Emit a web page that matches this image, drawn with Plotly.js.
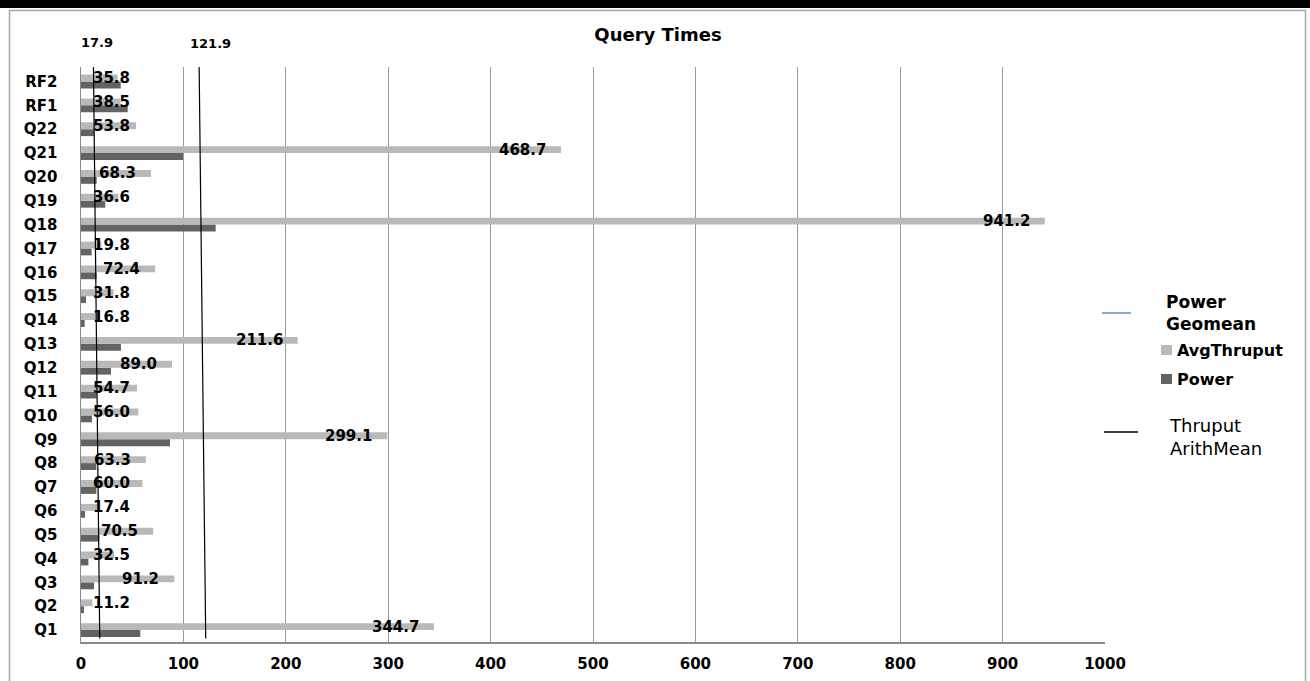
<!DOCTYPE html>
<html>
<head>
<meta charset="utf-8">
<script src="https://cdn.plot.ly/plotly-3.0.1.min.js"></script>
<style>
html,body{margin:0;padding:0;background:#fff;}
#chart{width:1310px;height:681px;}
.cartesianlayer .plot, .scatterlayer, .scatterlayer *{clip-path:none !important;}
</style>
</head>
<body>
<div id="chart"></div>
<script>
// ---- data ----
var categories = ['Q1','Q2','Q3','Q4','Q5','Q6','Q7','Q8','Q9','Q10','Q11','Q12','Q13','Q14','Q15','Q16','Q17','Q18','Q19','Q20','Q21','Q22','RF1','RF2'];
var avgThruput = [344.7,11.2,91.2,32.5,70.5,17.4,60.0,63.3,299.1,56.0,54.7,89.0,211.6,16.8,31.8,72.4,19.8,941.2,36.6,68.3,468.7,53.8,38.5,35.8];
var power      = [57.9,2.9,12.7,7.2,17.9,3.9,15.0,15.0,86.9,10.7,15.3,29.3,39.0,3.6,4.9,15.3,10.4,131.5,23.7,15.3,99.6,12.7,45.6,38.8];
var powerGeomean = 17.9;
var thruputArithMean = 121.9;
// reference lines as drawn (slightly slanted): x at bottom, x at top
var geomeanLineX = [18.3, 12.1];
var arithLineX = [121.8, 115.3];
var lineSpanY = [0.006, 1.012];
var xTicks = [0,100,200,300,400,500,600,700,800,900,1000];

// ---- layout helpers (pixels -> paper) ----
var ML = 81, MR = 205, MT = 67, MB = 39, W = 1310, H = 681;
var PW = W - ML - MR, PH = H - MT - MB;
function px(x){ return (x - ML) / PW; }
function py(y){ return 1 - (y - MT) / PH; }

var FONT = 'DejaVu Sans, Verdana, sans-serif';
var LIGHT = '#b9b9b9', DARK = '#636363';

var traces = [
  {type:'bar', orientation:'h', name:'Power', y:categories, x:power,
   marker:{color:DARK}, hoverinfo:'x+y'},
  {type:'bar', orientation:'h', name:'AvgThruput', y:categories, x:avgThruput,
   marker:{color:LIGHT}, hoverinfo:'x+y'},
  {type:'scatter', mode:'lines', name:'Power Geomean', x:geomeanLineX, y:lineSpanY,
   yaxis:'y2', line:{color:'#000', width:1.2}, cliponaxis:false, hoverinfo:'skip'},
  {type:'scatter', mode:'lines', name:'Thruput ArithMean', x:arithLineX, y:lineSpanY,
   yaxis:'y2', line:{color:'#000', width:1.2}, cliponaxis:false, hoverinfo:'skip'}
];

var annotations = [];
// data labels for AvgThruput
for (var i = 0; i < categories.length; i++) {
  annotations.push({
    x: Math.max(avgThruput[i], 62.7), y: categories[i], xref:'x', yref:'y',
    text: avgThruput[i].toFixed(1), showarrow:false, xanchor:'right', yanchor:'middle',
    xshift:-13, yshift:3.5, font:{family:FONT, size:15, color:'#000', weight:'bold'}
  });
}
// labels above reference lines
annotations.push({x:powerGeomean, y:py(43), xref:'x', yref:'paper', text:powerGeomean.toFixed(1),
  showarrow:false, xanchor:'center', yanchor:'middle', xshift:-2,
  font:{family:FONT, size:13, color:'#000', weight:'bold'}});
annotations.push({x:thruputArithMean, y:py(44), xref:'x', yref:'paper', text:thruputArithMean.toFixed(1),
  showarrow:false, xanchor:'center', yanchor:'middle', xshift:5,
  font:{family:FONT, size:13, color:'#000', weight:'bold'}});
// legend texts
annotations.push({x:px(1164), y:py(313), xref:'paper', yref:'paper', text:'Power<br>Geomean',
  showarrow:false, xanchor:'left', yanchor:'middle', align:'left',
  font:{family:FONT, size:17, color:'#000', weight:'bold'}});
annotations.push({x:px(1175), y:py(350), xref:'paper', yref:'paper', text:'AvgThruput',
  showarrow:false, xanchor:'left', yanchor:'middle',
  font:{family:FONT, size:16, color:'#000', weight:'bold'}});
annotations.push({x:px(1175), y:py(379), xref:'paper', yref:'paper', text:'Power',
  showarrow:false, xanchor:'left', yanchor:'middle',
  font:{family:FONT, size:16, color:'#000', weight:'bold'}});
annotations.push({x:px(1167), y:py(437), xref:'paper', yref:'paper', text:'Thruput<br>ArithMean',
  showarrow:false, xanchor:'left', yanchor:'middle', align:'left',
  font:{family:FONT, size:18, color:'#000'}});

var shapes = [
  // top black strip
  {type:'rect', xref:'paper', yref:'paper', x0:px(-5), x1:px(W+5), y0:py(8), y1:py(-5),
   fillcolor:'#000', line:{width:0}, layer:'below'},
  // outer frame
  {type:'rect', xref:'paper', yref:'paper', x0:px(9.5), x1:px(1305.5), y0:py(700), y1:py(10.5),
   fillcolor:'rgba(0,0,0,0)', line:{color:'#a6a6a6', width:1.5}, layer:'below'},
  // legend markers
  {type:'line', xref:'paper', yref:'paper', x0:px(1102), x1:px(1131), y0:py(313), y1:py(313),
   line:{color:'#4a7ebb', width:1.3}},
  {type:'rect', xref:'paper', yref:'paper', x0:px(1161), x1:px(1172), y0:py(355), y1:py(345),
   fillcolor:LIGHT, line:{width:0}},
  {type:'rect', xref:'paper', yref:'paper', x0:px(1161), x1:px(1172), y0:py(384), y1:py(374),
   fillcolor:DARK, line:{width:0}},
  {type:'line', xref:'paper', yref:'paper', x0:px(1104), x1:px(1138), y0:py(432), y1:py(432),
   line:{color:'#000', width:1.5}}
];

var layout = {
  width:W, height:H,
  margin:{l:ML, r:MR, t:MT, b:MB, pad:0},
  paper_bgcolor:'#fff', plot_bgcolor:'#fff',
  showlegend:false,
  barmode:'group', bargap:0.42, bargroupgap:0,
  title:{text:'Query Times', xref:'container', yref:'container', x:658/W, xanchor:'center',
         y:1-35/H, yanchor:'middle',
         font:{family:FONT, size:18, color:'#000', weight:'bold'}},
  xaxis:{range:[0,1000], tickvals:xTicks, ticktext:xTicks.map(String),
         showgrid:true, gridcolor:'#9a9a9a', gridwidth:1,
         showline:true, linecolor:'#8a8a8a', linewidth:2,
         zeroline:false, ticks:'', ticklabelstandoff:7, fixedrange:true,
         tickfont:{family:FONT, size:15, color:'#000', weight:'bold'}},
  yaxis:{type:'category', categoryorder:'array', categoryarray:categories,
         showgrid:false, showline:true, linecolor:'#8a8a8a', linewidth:1.5,
         zeroline:false, ticks:'', ticklabelstandoff:19, fixedrange:true,
         tickfont:{family:FONT, size:15, color:'#000', weight:'bold'}},
  yaxis2:{overlaying:'y', range:[0,1], visible:false, fixedrange:true},
  annotations:annotations,
  shapes:shapes
};

Plotly.newPlot('chart', traces, layout, {displayModeBar:false, staticPlot:true});
</script>
</body>
</html>
